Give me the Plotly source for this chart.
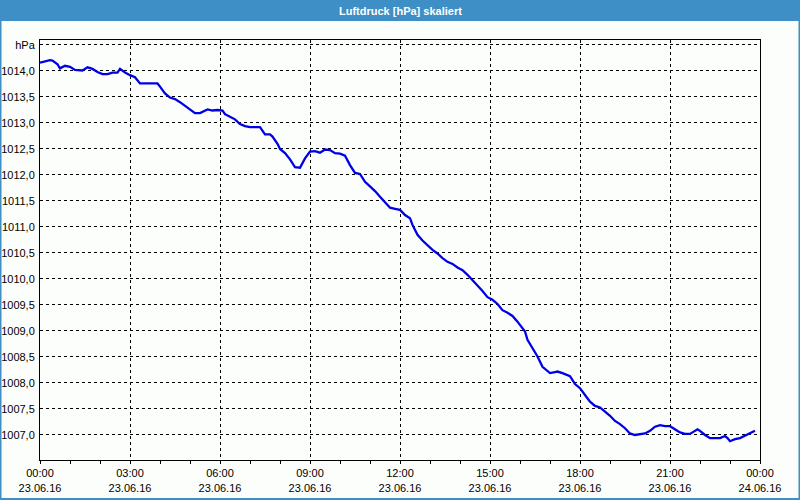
import plotly.graph_objects as go

# ---- data ----
times = ["00:00","00:20","00:25","00:35","00:40","00:50","01:00","01:10","01:25","01:35",
         "01:45","01:55","02:05","02:15","02:25","02:35","02:40","02:50","03:00","03:10",
         "03:20","03:35","03:55","04:00","04:10","04:20","04:30","04:40","04:50","05:00",
         "05:10","05:20","05:30","05:35","05:45","05:55","06:05","06:10","06:20","06:30",
         "06:40","06:50","07:00","07:10","07:20","07:30","07:40","07:45","07:55","08:00",
         "08:10","08:20","08:30","08:40","08:50","09:00","09:10","09:20","09:30","09:40",
         "09:50","10:00","10:10","10:20","10:30","10:40","10:50","11:00","11:10","11:20",
         "11:30","11:40","11:50","12:00","12:10","12:20","12:25","12:35","12:45","12:55",
         "13:05","13:15","13:25","13:35","13:45","13:55","14:05","14:15","14:25","14:35",
         "14:45","14:55","15:05","15:15","15:25","15:35","15:45","15:55","16:05","16:10",
         "16:15","16:25","16:35","16:45","17:00","17:10","17:15","17:25","17:40","17:50",
         "18:00","18:10","18:20","18:30","18:40","18:50","19:00","19:10","19:20","19:30",
         "19:40","19:50","20:00","20:10","20:20","20:30","20:40","20:50","21:00","21:10",
         "21:20","21:30","21:40","21:45","21:55","22:00","22:10","22:20","22:30","22:40",
         "22:50","22:55","23:00","23:10","23:20","23:30","23:40","23:50"]
pressure = [1014.16,1014.21,1014.20,1014.13,1014.05,1014.10,1014.08,1014.02,1014.01,1014.07,
            1014.04,1013.98,1013.94,1013.94,1013.97,1013.97,1014.04,1013.97,1013.92,1013.88,
            1013.76,1013.76,1013.76,1013.70,1013.57,1013.49,1013.46,1013.40,1013.33,1013.25,
            1013.19,1013.19,1013.23,1013.26,1013.24,1013.25,1013.24,1013.17,1013.12,1013.07,
            1012.98,1012.94,1012.92,1012.92,1012.92,1012.78,1012.78,1012.74,1012.60,1012.50,
            1012.42,1012.30,1012.15,1012.14,1012.32,1012.45,1012.46,1012.43,1012.49,1012.48,
            1012.42,1012.41,1012.37,1012.19,1012.04,1012.02,1011.87,1011.78,1011.69,1011.58,
            1011.47,1011.37,1011.35,1011.33,1011.23,1011.17,1011.04,1010.85,1010.74,1010.65,
            1010.56,1010.49,1010.40,1010.33,1010.29,1010.22,1010.17,1010.08,1009.98,1009.88,
            1009.77,1009.65,1009.60,1009.52,1009.40,1009.35,1009.29,1009.18,1009.05,1008.99,
            1008.83,1008.67,1008.51,1008.31,1008.19,1008.21,1008.22,1008.19,1008.13,1007.98,
            1007.90,1007.77,1007.64,1007.56,1007.53,1007.45,1007.37,1007.27,1007.21,1007.13,
            1007.03,1007.00,1007.01,1007.03,1007.08,1007.16,1007.19,1007.17,1007.17,1007.11,
            1007.05,1007.02,1007.02,1007.05,1007.11,1007.08,1007.00,1006.94,1006.94,1006.94,
            1006.98,1006.94,1006.88,1006.92,1006.94,1006.99,1007.04,1007.08]

x_tick_vals = ["2016-06-23 00:00","2016-06-23 03:00","2016-06-23 06:00","2016-06-23 09:00",
               "2016-06-23 12:00","2016-06-23 15:00","2016-06-23 18:00","2016-06-23 21:00",
               "2016-06-24 00:00"]
x_tick_text = ["00:00<br>23.06.16","03:00<br>23.06.16","06:00<br>23.06.16","09:00<br>23.06.16",
               "12:00<br>23.06.16","15:00<br>23.06.16","18:00<br>23.06.16","21:00<br>23.06.16",
               "00:00<br>24.06.16"]
y_tick_vals = [1007.0,1007.5,1008.0,1008.5,1009.0,1009.5,1010.0,1010.5,1011.0,1011.5,
               1012.0,1012.5,1013.0,1013.5,1014.0,1014.5]
y_tick_text = ["1007,0","1007,5","1008,0","1008,5","1009,0","1009,5","1010,0","1010,5",
               "1011,0","1011,5","1012,0","1012,5","1013,0","1013,5","1014,0","hPa"]

title_text = "Luftdruck [hPa] skaliert"

x_dates = ["2016-06-23 " + t for t in times]

FONT = "Liberation Sans"
BG = "#fcfefc"
BAR = "#3d8fc6"

fig = go.Figure()
fig.add_trace(go.Scatter(x=x_dates, y=pressure, mode="lines",
                         line=dict(color="#0000e6", width=2.3), hoverinfo="skip"))

W, H = 800, 500
ml, mr, mt, mb = 40, 40, 40, 40
pw, ph = W - ml - mr, H - mt - mb

def px2paper_x(px):
    return (px - ml) / pw

def px2paper_y(py):
    return 1 - (py - mt) / ph

fig.update_layout(
    width=W, height=H,
    margin=dict(l=ml, r=mr, t=mt, b=mb, autoexpand=False),
    paper_bgcolor=BG, plot_bgcolor=BG,
    showlegend=False,
    font=dict(family=FONT, size=11, color="black"),
    xaxis=dict(
        type="date", automargin=False,
        range=["2016-06-23 00:00", "2016-06-24 00:00"],
        tickvals=x_tick_vals, ticktext=x_tick_text,
        showgrid=True, gridcolor="black", gridwidth=1, griddash="3px,3px",
        showline=True, linecolor="black", linewidth=1, mirror=True,
        ticks="outside", ticklen=3, tickcolor="black",
        minor=dict(dtick=3600000, ticks="outside", ticklen=3, tickcolor="black", showgrid=False),
        zeroline=False,
        tickfont=dict(family=FONT, size=11),
    ),
    yaxis=dict(
        automargin=False,
        range=[1006.519, 1014.596],
        tickvals=y_tick_vals, ticktext=y_tick_text,
        showgrid=True, gridcolor="black", gridwidth=1, griddash="3px,3px",
        showline=True, linecolor="black", linewidth=1, mirror=True,
        ticks="", ticklabelstandoff=2,
        zeroline=False,
        tickfont=dict(family=FONT, size=11),
    ),
    shapes=[
        dict(type="rect", xref="paper", yref="paper",
             x0=px2paper_x(0), x1=px2paper_x(W), y0=px2paper_y(21), y1=px2paper_y(0),
             fillcolor=BAR, line=dict(width=0), layer="above"),
        dict(type="line", xref="paper", yref="paper",
             x0=px2paper_x(0.5), x1=px2paper_x(0.5), y0=px2paper_y(H), y1=px2paper_y(20),
             line=dict(color=BAR, width=2), layer="above"),
        dict(type="line", xref="paper", yref="paper",
             x0=px2paper_x(W - 0.5), x1=px2paper_x(W - 0.5), y0=px2paper_y(H), y1=px2paper_y(20),
             line=dict(color=BAR, width=2), layer="above"),
        dict(type="line", xref="paper", yref="paper",
             x0=px2paper_x(0), x1=px2paper_x(W), y0=px2paper_y(H - 1), y1=px2paper_y(H - 1),
             line=dict(color=BAR, width=2), layer="above"),
    ],
    annotations=[
        dict(text="<b>" + title_text + "</b>", xref="paper", yref="paper",
             x=0.5, y=px2paper_y(10.5), xanchor="center", yanchor="middle",
             showarrow=False, font=dict(family=FONT, size=11, color="white")),
    ],
)

fig.write_html("out.html",
               config={"displayModeBar": False},
               post_script="document.body.style.margin='0';document.body.style.padding='0';")
